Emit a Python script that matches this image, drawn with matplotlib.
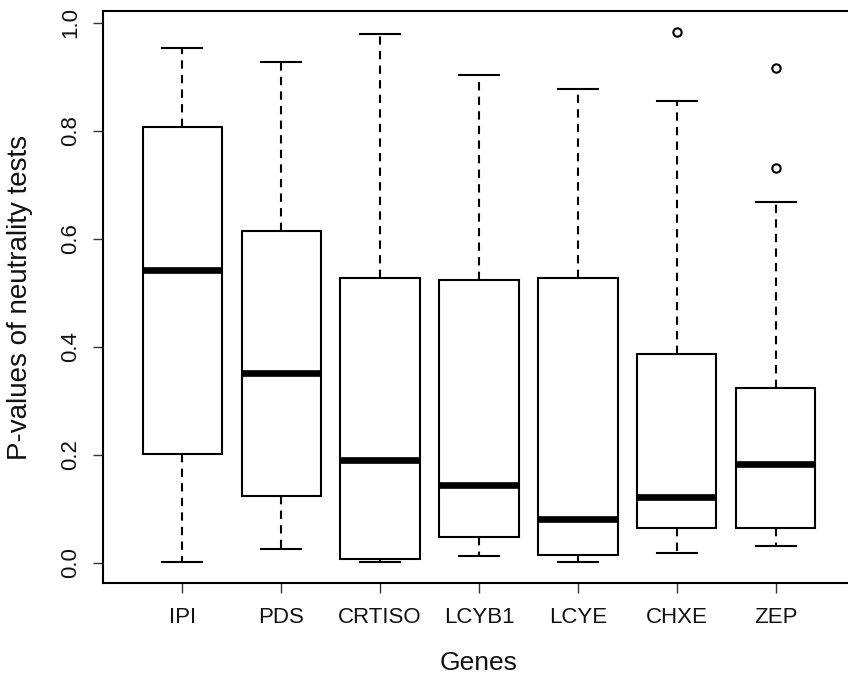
import matplotlib
matplotlib.use('Agg')
import matplotlib.pyplot as plt

# values
genes = ['IPI', 'PDS', 'CRTISO', 'LCYB1', 'LCYE', 'CHXE', 'ZEP']
whisker_low = [0.001, 0.026, 0.001, 0.013, 0.001, 0.019, 0.031]
q1 = [0.201, 0.124, 0.007, 0.049, 0.015, 0.065, 0.065]
median = [0.543, 0.352, 0.191, 0.144, 0.081, 0.123, 0.183]
q3 = [0.808, 0.615, 0.528, 0.524, 0.528, 0.387, 0.324]
whisker_high = [0.954, 0.928, 0.980, 0.904, 0.878, 0.856, 0.669]
outliers = [[], [], [], [], [], [0.983], [0.917, 0.731]]


def build_stats():
    stats = []
    for i, name in enumerate(genes):
        stats.append({
            'label': name,
            'whislo': whisker_low[i],
            'q1': q1[i],
            'med': median[i],
            'q3': q3[i],
            'whishi': whisker_high[i],
            'fliers': outliers[i],
        })
    return stats


def main():
    plt.rcParams['font.family'] = ['Liberation Sans', 'DejaVu Sans']

    fig = plt.figure(figsize=(8.48, 6.76), dpi=100)
    ax = fig.add_axes([103 / 848, 93 / 676, 752 / 848, 572 / 676])

    ax.bxp(build_stats(), positions=range(1, len(genes) + 1), widths=0.8,
           patch_artist=True,
           boxprops=dict(facecolor='white', edgecolor='black', linewidth=1.5),
           medianprops=dict(color='black', linewidth=4.8, solid_capstyle='butt'),
           whiskerprops=dict(color='black', linewidth=1.5, linestyle=(0, (4, 3))),
           capprops=dict(color='black', linewidth=1.5),
           flierprops=dict(marker='o', markerfacecolor='none', markeredgecolor='black',
                           markersize=6, markeredgewidth=1.5))

    ax.set_xlim(0.2, 7.8)
    ax.set_ylim(-0.037, 1.022)

    ax.set_yticks([0.0, 0.2, 0.4, 0.6, 0.8, 1.0])
    ax.set_yticklabels(['0.0', '0.2', '0.4', '0.6', '0.8', '1.0'],
                       rotation=90, va='center')
    ax.tick_params(axis='both', labelsize=16, length=7.5, width=1.0,
                   color='#333333', labelcolor='#111111')
    ax.tick_params(axis='x', pad=10)
    ax.tick_params(axis='y', pad=8)

    for spine in ax.spines.values():
        spine.set_linewidth(1.5)

    ax.set_xlabel('Genes', fontsize=19, color='#111111')
    ax.set_ylabel('P-values of neutrality tests', fontsize=20, color='#111111')
    ax.xaxis.set_label_coords(0.5, -0.119)
    ax.yaxis.set_label_coords(-0.093, 0.5)

    fig.savefig('out.png', dpi=100, facecolor='white')


if __name__ == '__main__':
    main()
